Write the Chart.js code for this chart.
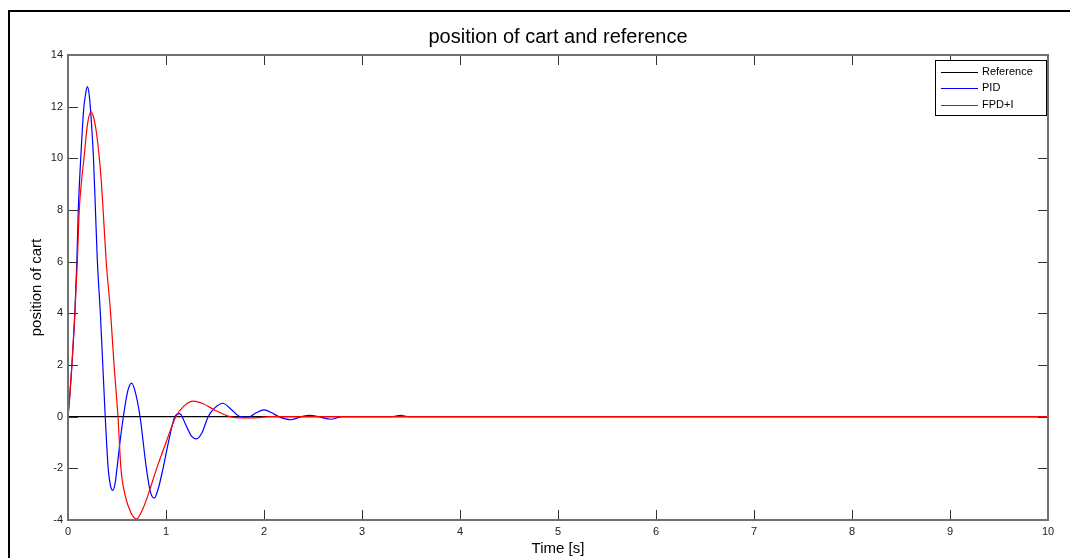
<!DOCTYPE html>
<html>
<head>
<meta charset="utf-8">
<script src="https://cdn.jsdelivr.net/npm/chart.js@4.4.1/dist/chart.umd.min.js"></script>
<style>
  html, body { margin: 0; padding: 0; background: #fff; }
</style>
</head>
<body>
<canvas id="cartChart" width="1070" height="558"></canvas>
<script>
// values (time in s, position of cart)
const refTime = [0, 10];
const refPos = [0, 0];

const pidTime = [0, 0.02, 0.04, 0.07, 0.09, 0.105, 0.13, 0.16, 0.18, 0.197, 0.215, 0.235, 0.26, 0.28, 0.30, 0.33, 0.355, 0.38,
  0.41, 0.435, 0.456, 0.48, 0.50, 0.53, 0.565, 0.61, 0.65, 0.69, 0.735, 0.80, 0.84, 0.88, 0.92, 0.97, 1.03, 1.09,
  1.14, 1.2, 1.26, 1.31, 1.37, 1.43, 1.5, 1.58, 1.66, 1.76, 1.84, 1.92, 2.0, 2.08, 2.15, 2.27, 2.38, 2.47, 2.56,
  2.68, 2.8, 3.3, 3.39, 3.48, 10];
const pidPos = [0, 0.9, 2.0, 4.0, 6.0, 8.0, 10.0, 11.9, 12.5, 12.78, 12.5, 11.6, 10.0, 8.0, 6.0, 4.0, 2.0, 0,
  -2.0, -2.7, -2.85, -2.6, -2.0, -1.0, 0, 1.0, 1.3, 0.9, 0, -2.0, -2.9, -3.15, -2.8, -2.0, -0.9, 0,
  0.12, -0.3, -0.75, -0.86, -0.6, 0, 0.35, 0.52, 0.3, 0, -0.02, 0.15, 0.26, 0.15, 0, -0.12, 0, 0.05, 0,
  -0.1, 0, 0, 0.05, 0, 0];

const fpdTime = [0, 0.02, 0.04, 0.07, 0.095, 0.115, 0.14, 0.163, 0.2, 0.235, 0.26, 0.29, 0.32, 0.34, 0.36, 0.39, 0.435, 0.47, 0.51,
  0.54, 0.58, 0.64, 0.70, 0.76, 0.82, 0.905, 1.0, 1.1, 1.18, 1.28, 1.38, 1.5, 1.65, 1.8, 1.95, 2.05, 10];
const fpdPos = [0, 0.9, 2.0, 4.0, 6.0, 8.0, 9.2, 10.0, 11.35, 11.8, 11.6, 11.0, 10.0, 9.1, 7.9, 6.0, 4.0, 2.0, 0,
  -2.0, -3.0, -3.7, -3.96, -3.6, -3.0, -2.0, -1.0, 0, 0.4, 0.6, 0.5, 0.25, 0, -0.05, -0.04, 0, 0];

const xTicks = [0, 1, 2, 3, 4, 5, 6, 7, 8, 9, 10];
const yTicks = [-4, -2, 0, 2, 4, 6, 8, 10, 12, 14];
const chartTitle = 'position of cart and reference';

const FONT = '"Liberation Sans", Arial, sans-serif';
const toPoints = (xs, ys) => xs.map((x, i) => ({ x: x, y: ys[i] }));

// title centred over the axes, not the whole canvas
const axesTitle = {
  id: 'axesTitle',
  afterDraw(chart) {
    const { ctx, chartArea: a } = chart;
    ctx.save();
    ctx.fillStyle = '#000';
    ctx.font = '20px ' + FONT;
    ctx.textAlign = 'center';
    ctx.textBaseline = 'middle';
    ctx.fillText(chartTitle, (a.left + a.right) / 2, a.top - 18);
    ctx.restore();
  }
};

// matlab style box with inward tick marks
const axesBox = {
  id: 'axesBox',
  afterDatasetsDraw(chart) {
    const { ctx, chartArea: a, scales } = chart;
    const len = 10;
    ctx.save();
    ctx.strokeStyle = '#333';
    ctx.lineWidth = 1;
    ctx.beginPath();
    xTicks.forEach(v => {
      const px = Math.round(scales.x.getPixelForValue(v)) + 0.5;
      ctx.moveTo(px, a.bottom); ctx.lineTo(px, a.bottom - len);
      ctx.moveTo(px, a.top); ctx.lineTo(px, a.top + len);
    });
    yTicks.forEach(v => {
      const py = Math.round(scales.y.getPixelForValue(v)) + 0.5;
      ctx.moveTo(a.left, py); ctx.lineTo(a.left + len, py);
      ctx.moveTo(a.right, py); ctx.lineTo(a.right - len, py);
    });
    ctx.stroke();
    ctx.strokeStyle = '#707070';
    ctx.lineWidth = 2;
    ctx.strokeRect(a.left, a.top, a.right - a.left, a.bottom - a.top);
    ctx.restore();
  }
};

// legend drawn inside the axes, top right
const boxLegend = {
  id: 'boxLegend',
  afterDraw(chart) {
    const { ctx, chartArea: a } = chart;
    const w = 111, h = 55;
    const left = a.right - 2 - w, top = a.top + 5;
    ctx.save();
    ctx.fillStyle = '#fff';
    ctx.fillRect(left, top, w, h);
    ctx.strokeStyle = '#000';
    ctx.lineWidth = 1;
    ctx.strokeRect(left + 0.5, top + 0.5, w, h);
    ctx.font = '11px ' + FONT;
    ctx.textBaseline = 'middle';
    chart.data.datasets.forEach((ds, i) => {
      const y = top + 11.5 + i * 16.5;
      ctx.strokeStyle = ds.borderColor;
      ctx.lineWidth = 1.2;
      ctx.beginPath();
      ctx.moveTo(left + 6, Math.round(y) + 0.5);
      ctx.lineTo(left + 43, Math.round(y) + 0.5);
      ctx.stroke();
      ctx.fillStyle = '#000';
      ctx.fillText(ds.label, left + 47, y);
    });
    ctx.restore();
  }
};

// outer figure frame
const figFrame = {
  id: 'figFrame',
  beforeDraw(chart) {
    const ctx = chart.ctx;
    ctx.save();
    ctx.strokeStyle = '#000';
    ctx.lineWidth = 2;
    ctx.beginPath();
    ctx.moveTo(9, chart.height);
    ctx.lineTo(9, 11);
    ctx.lineTo(chart.width, 11);
    ctx.stroke();
    ctx.restore();
  }
};

const ctx = document.getElementById('cartChart').getContext('2d');
const cartChart = new Chart(ctx, {
  type: 'line',
  data: {
    datasets: [
      { label: 'Reference', data: toPoints(refTime, refPos), borderColor: '#000000', order: 3 },
      { label: 'PID', data: toPoints(pidTime, pidPos), borderColor: '#0000ff', order: 2 },
      { label: 'FPD+I', data: toPoints(fpdTime, fpdPos), borderColor: '#ff0000', order: 1 },
    ],
  },
  options: {
    responsive: false,
    animation: false,
    layout: { padding: { left: 0, right: 22, top: 55, bottom: 0 } },
    elements: {
      point: { radius: 0 },
      line: { borderWidth: 1.2, cubicInterpolationMode: 'monotone', fill: false },
    },
    plugins: {
      legend: { display: false },
      tooltip: { enabled: false },
      title: { display: false },
    },
    scales: {
      x: {
        type: 'linear',
        min: 0,
        max: 10,
        afterFit: s => { s.height = 38; },
        afterBuildTicks: s => { s.ticks = xTicks.map(v => ({ value: v })); },
        grid: { display: false, drawTicks: false },
        border: { display: false },
        ticks: { padding: 5, color: '#222', font: { family: FONT, size: 11 } },
        title: {
          display: true,
          text: 'Time [s]',
          color: '#000',
          padding: { top: 0, bottom: 0 },
          font: { family: FONT, size: 15 },
        },
      },
      y: {
        type: 'linear',
        min: -4,
        max: 14,
        afterFit: s => { s.width = 68; },
        afterBuildTicks: s => { s.ticks = yTicks.map(v => ({ value: v })); },
        grid: { display: false, drawTicks: false },
        border: { display: false },
        ticks: { padding: 5, color: '#222', font: { family: FONT, size: 11 } },
        title: {
          display: true,
          text: 'position of cart',
          color: '#000',
          padding: { top: 28, bottom: 28 },
          font: { family: FONT, size: 15 },
        },
      },
    },
  },
  plugins: [figFrame, axesBox, boxLegend, axesTitle],
});
</script>
</body>
</html>
